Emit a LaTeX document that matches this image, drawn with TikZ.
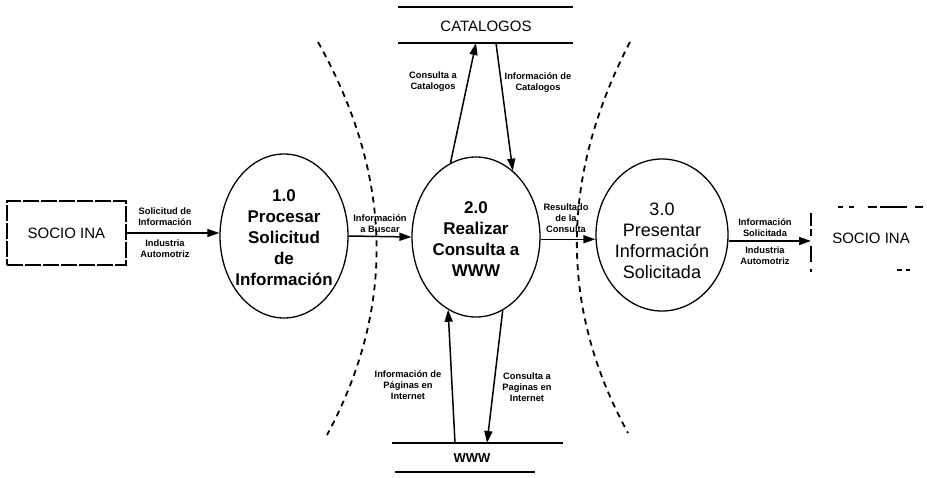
\documentclass[tikz,border=0pt]{standalone}
\usepackage{fontspec}
\setmainfont{Liberation Sans}
\usetikzlibrary{shapes.geometric,arrows.meta}
\begin{document}
\begin{tikzpicture}[x=1pt,y=-1pt,
  proc/.style={ellipse,draw,line width=1.3pt,inner sep=0pt},
  ptext/.style={align=center,font=\bfseries\fontsize{17}{21}\selectfont,inner sep=0pt},
  ptextlight/.style={align=center,font=\fontsize{18}{21}\selectfont,inner sep=0pt},
  flowlbl/.style={align=center,font=\bfseries\fontsize{9.3}{11}\selectfont,inner sep=0pt},
  flow/.style={line width=1.5pt,-{Triangle[length=12pt,width=8pt]}},
  storeline/.style={line width=1.2pt},
  boundary/.style={line width=1.8pt,dash pattern=on 6pt off 5pt},
  frag/.style={line width=1.1pt},
  ]
\useasboundingbox (0,0) rectangle (927,477);

% external entity (source)
\node[draw,line width=1.2pt,dash pattern=on 16pt off 2pt,minimum width=119pt,
      minimum height=64pt,inner sep=0pt,font=\fontsize{15}{17}\selectfont]
      (e1) at (66.5,233) {SOCIO INA};

% processes
\node[proc,minimum width=128pt,minimum height=164pt] (p1) at (284,236) {};
\node[ptext] (p1txt) at (284,238) {1.0\\Procesar\\Solicitud\\de\\Información};

\node[proc,minimum width=128pt,minimum height=160pt] (p2) at (476,237) {};
\node[ptext] (p2txt) at (476,239) {2.0\\Realizar\\Consulta a\\WWW};

\node[proc,minimum width=132pt,minimum height=152pt] (p3) at (662,235) {};
\node[ptextlight] (p3txt) at (662,241) {3.0\\Presentar\\Información\\Solicitada};

% external entity (sink), drawn with a broken outline
\node[inner sep=0pt,font=\fontsize{15}{17}\selectfont] (e2) at (871,238) {SOCIO INA};
\coordinate (e2in) at (811,241);
\draw[frag] (838,207) -- (843,207) (849,207) -- (854,207) (868,207) -- (877,207)
            (880,207) -- (907,207) (915,207) -- (923,207);
\draw[frag] (811,213) -- (811,226) (811,229) -- (811,236) (811,246) -- (811,262)
            (811,269) -- (811,271.5);
\draw[frag] (897,270) -- (902,270) (906,270) -- (910,270);

% data stores
\draw[storeline] (398,7) -- (573,7) (398,43) -- (573,43);
\node[inner sep=0pt,font=\fontsize{15}{17}\selectfont] (cat) at (486,26) {CATALOGOS};
\coordinate (catin) at (476,43);
\coordinate (catout) at (496,43);

\draw[storeline] (392,443) -- (563,443) (395,472) -- (535,472);
\node[inner sep=0pt,font=\bfseries\fontsize{13}{15}\selectfont] (www) at (472,458) {WWW};
\coordinate (wwwout) at (455,443);
\coordinate (wwwin) at (487,443);

% boundaries
\draw[boundary] (318,42) .. controls (393,176) and (396,307) .. (327,435);
\draw[boundary] (630,42) .. controls (560,177) and (559,307) .. (628,433);

% data flows
\draw[flow] (e1.east) -- (e1.east -| p1.west);
\draw[flow] (p1.east) -- (p2.west);
\draw[flow] (p2.-2) -- (p2.-2 -| p3.west);
\draw[flow] (p3.east |- e2in) -- (e2in);
\draw[flow] (p2.109.6) -- (catin);
\draw[flow] (catout) -- (p2.61.4);
\draw[flow] (wwwout) -- (p2.249.5);
\draw[flow] (p2.290.4) -- (wwwin);

% flow labels
\node[flowlbl] (l1a) at (165,217) {Solicitud de\\Información};
\node[flowlbl] (l1b) at (165,249) {Industria\\Automotriz};
\node[flowlbl] (l2) at (380,224) {Información\\a Buscar};
\node[flowlbl] (l3) at (566,218) {Resultado\\de la\\Consulta};
\node[flowlbl] (l4a) at (765,228) {Información\\Solicitada};
\node[flowlbl] (l4b) at (765,256) {Industria\\Automotriz};
\node[flowlbl] (l5) at (433,82) {Consulta a\\Catalogos};
\node[flowlbl] (l6) at (538,83) {Información de\\Catalogos};
\node[flowlbl] (l7) at (408,385) {Información de\\Páginas en\\Internet};
\node[flowlbl] (l8) at (527,387) {Consulta a\\Paginas en\\Internet};
\end{tikzpicture}
\end{document}
